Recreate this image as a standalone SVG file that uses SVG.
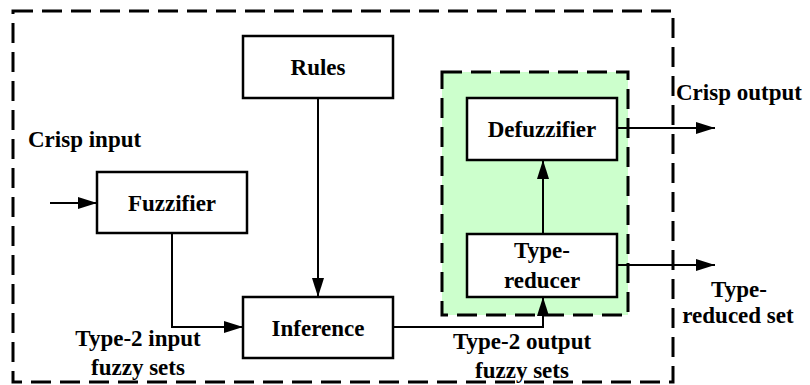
<svg xmlns="http://www.w3.org/2000/svg" width="810" height="385" viewBox="0 0 810 385">
<defs>
<style>
.box{fill:#fff;stroke:#000;stroke-width:2.5}
.dash{fill:none;stroke:#000;stroke-width:3;stroke-dasharray:20 9}
text{font-family:'Liberation Serif','DejaVu Serif',serif;font-size:23px;font-weight:bold;fill:#000}
.c{text-anchor:middle}
.ln{fill:none;stroke:#000;stroke-width:2}
</style>
<marker id="ah" markerUnits="userSpaceOnUse" markerWidth="20" markerHeight="12" refX="19" refY="6" orient="auto">
<path d="M0,0 L19,6 L0,12 Z" fill="#000"/>
</marker>
</defs>
<rect width="810" height="385" fill="#fff"/>
<rect id="system" class="dash" x="13" y="11" width="660" height="371"/>
<g id="output-processor">
<rect x="442" y="72" width="186" height="243" fill="#ccffcc" stroke="none"/>
<rect class="dash" x="442" y="72" width="186" height="243"/>
</g>
<g id="connectors">
<line class="ln" x1="50" y1="203" x2="97" y2="203" marker-end="url(#ah)"/>
<polyline class="ln" points="172,233 172,327 243,327" marker-end="url(#ah)"/>
<line class="ln" x1="318" y1="98" x2="318" y2="297" marker-end="url(#ah)"/>
<polyline class="ln" points="393,327 543,327 543,297" marker-end="url(#ah)"/>
<line class="ln" x1="543" y1="234" x2="543" y2="160" marker-end="url(#ah)"/>
<line class="ln" x1="617" y1="128" x2="715" y2="128" marker-end="url(#ah)"/>
<line class="ln" x1="617" y1="265" x2="715" y2="265" marker-end="url(#ah)"/>
</g>
<g id="rules">
<rect class="box" x="243" y="36" width="150" height="62"/>
<text class="c" x="318" y="75">Rules</text>
</g>
<g id="fuzzifier">
<rect class="box" x="97" y="172" width="150" height="61"/>
<text class="c" x="172" y="211">Fuzzifier</text>
</g>
<g id="inference">
<rect class="box" x="243" y="297" width="150" height="61"/>
<text class="c" x="318" y="336">Inference</text>
</g>
<g id="defuzzifier">
<rect class="box" x="467" y="98" width="150" height="62"/>
<text class="c" x="542" y="137">Defuzzifier</text>
</g>
<g id="type-reducer">
<rect class="box" x="467" y="234" width="150" height="63"/>
<text class="c" x="542" y="258">Type-</text>
<text class="c" x="542" y="288">reducer</text>
</g>
<g id="labels">
<text x="28" y="147">Crisp input</text>
<text class="c" x="138" y="346">Type-2 input</text>
<text class="c" x="138" y="375">fuzzy sets</text>
<text class="c" x="522" y="349">Type-2 output</text>
<text class="c" x="522" y="378">fuzzy sets</text>
<text x="676" y="100">Crisp output</text>
<text class="c" x="739" y="297">Type-</text>
<text class="c" x="738" y="323">reduced set</text>
</g>
</svg>
